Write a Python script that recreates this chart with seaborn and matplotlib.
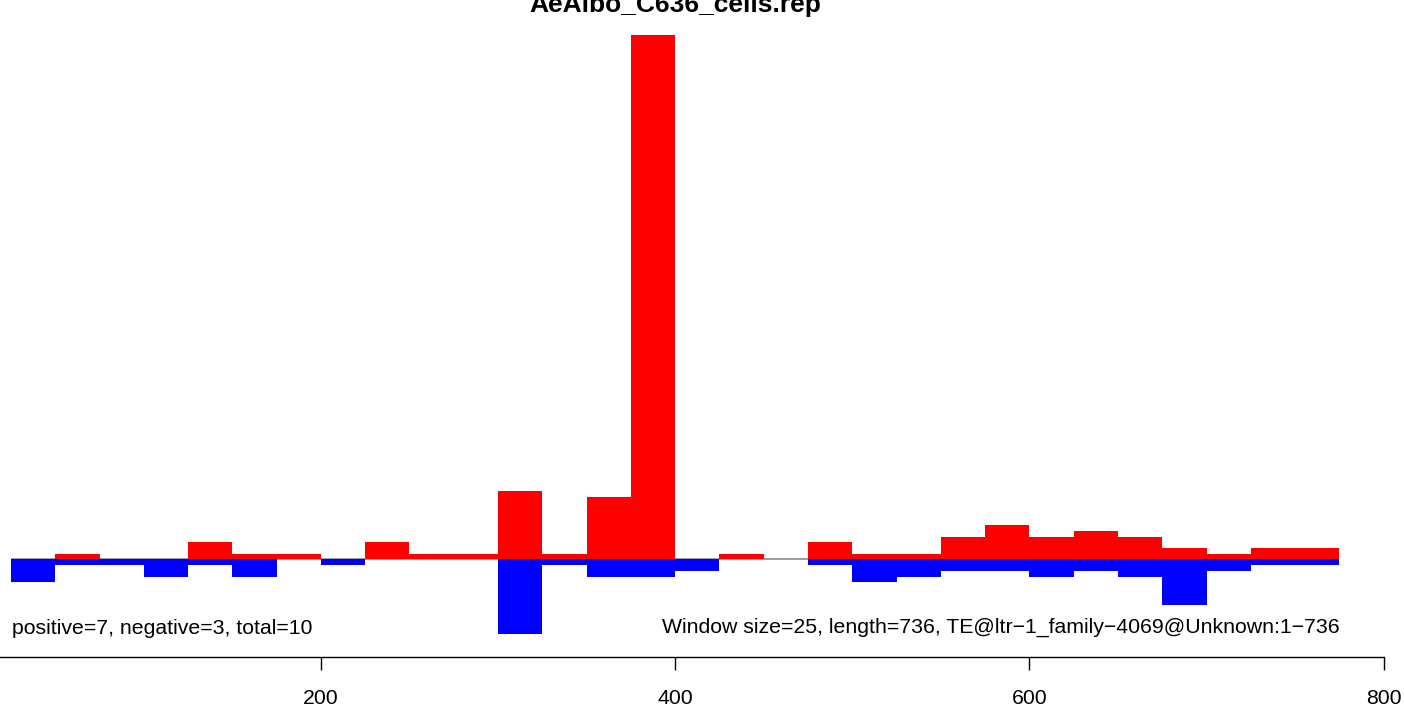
import numpy as np
import pandas as pd
import seaborn as sns
import matplotlib.pyplot as plt

# window starts (window size 25) and counts per window
win_start = [25, 50, 75, 100, 125, 150, 175, 200, 225, 250,
             275, 300, 325, 350, 375, 400, 425, 450, 475, 500,
             525, 550, 575, 600, 625, 650, 675, 700, 725, 750]
pos_counts = [0, 1, 0, 0, 3, 1, 1, 0, 3, 1,
              1, 12, 1, 11, 92, 0, 1, 0, 3, 1,
              1, 4, 6, 4, 5, 4, 2, 1, 2, 2]
neg_counts = [4, 1, 1, 3, 1, 3, 0, 1, 0, 0,
              0, 13, 1, 3, 3, 2, 0, 0, 1, 4,
              3, 2, 2, 3, 2, 3, 8, 2, 1, 1]
x_ticks = [200, 400, 600, 800]

title = "AeAlbo_C636_cells.rep"
left_note = "positive=7, negative=3, total=10"
right_note = "Window size=25, length=736, TE@ltr\u22121_family\u22124069@Unknown:1\u2212736"

df = pd.DataFrame({
    "center": np.array(win_start) + 12.5,
    "pos": pos_counts,
    "neg": [-v for v in neg_counts],
})

sns.set_style("white")
plt.rcParams['font.family'] = ['Liberation Sans', 'DejaVu Sans']
plt.rcParams['text.color'] = 'black'
plt.rcParams['xtick.color'] = 'black'
plt.rcParams['xtick.labelcolor'] = 'black'

fig = plt.figure(figsize=(14.04, 7.06), dpi=100)
ax = fig.add_axes([0, 0.069, 1, 0.931])

# zero line across the plotted range
ax.hlines(0, win_start[0], win_start[-1] + 25, color='#8c8c8c', lw=1.2, zorder=1)

sns.barplot(data=df, x="center", y="pos", native_scale=True, width=1,
            color='#ff0000', saturation=1, linewidth=0, errorbar=None, ax=ax, zorder=2)
sns.barplot(data=df, x="center", y="neg", native_scale=True, width=1,
            color='#0000ff', saturation=1, linewidth=0, errorbar=None, ax=ax, zorder=2)

ax.set_xlim(18.8, 811.5)
ax.set_ylim(-17.16, 98.16)

ax.set_xticks(x_ticks)
ax.set_xticklabels([str(t) for t in x_ticks], fontsize=15.3)
ax.set_yticks([])
ax.set_xlabel('')
ax.set_ylabel('')
for s in ['top', 'right', 'left']:
    ax.spines[s].set_visible(False)
ax.spines['bottom'].set_bounds(0, 800)
ax.spines['bottom'].set_color('black')
ax.spines['bottom'].set_linewidth(1.0)
ax.tick_params(axis='x', direction='out', length=9.5, width=1.0, color='black',
               pad=13.5, bottom=True)

ax.text(400, (559.5 - 12) / 5.7, title, ha='center', va='baseline',
        fontsize=19, fontweight='bold', color='black')
ax.text(win_start[0] + 0.5, (559.5 - 634) / 5.7, left_note, ha='left',
        va='baseline', fontsize=15.3, color='black')
ax.text(win_start[-1] + 25, (559.5 - 633) / 5.7, right_note, ha='right',
        va='baseline', fontsize=15.3, color='black')

fig.savefig('out.png', dpi=100)
